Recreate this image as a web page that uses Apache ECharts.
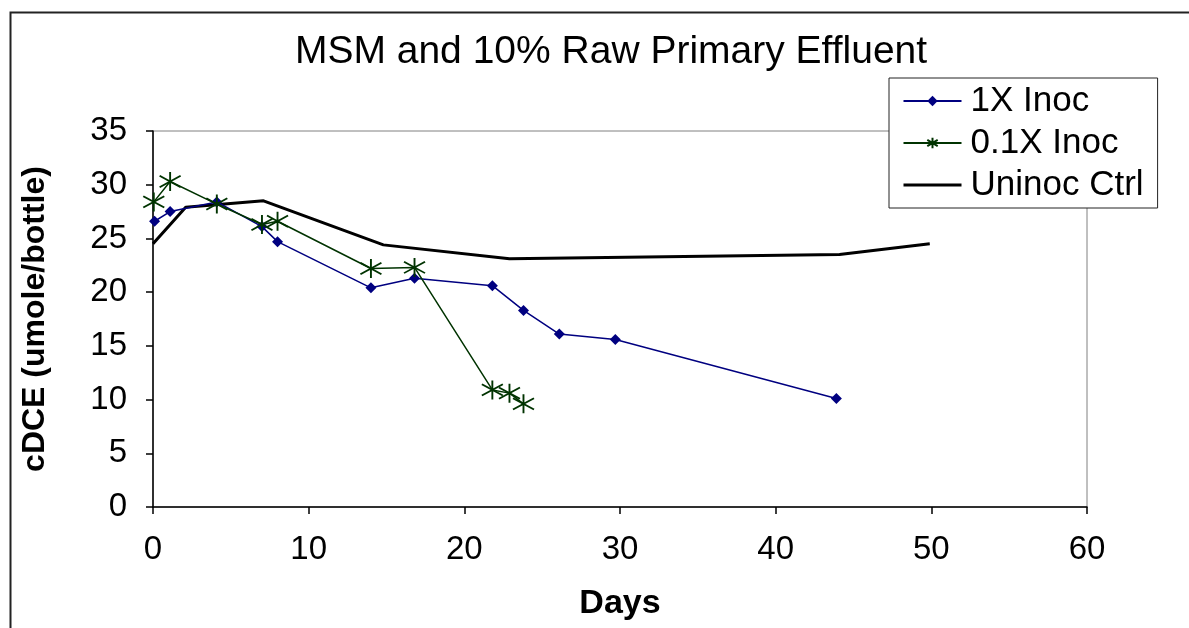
<!DOCTYPE html>
<html>
<head>
<meta charset="utf-8">
<script src="https://cdn.jsdelivr.net/npm/echarts@6/dist/echarts.min.js"></script>
<style>
  html, body { margin: 0; padding: 0; background: #fff; }
  #chart { width: 1189px; height: 628px; }
</style>
</head>
<body>
<div id="chart"></div>
<script>
// values
const inoc1Days = [0.1, 1.1, 4.1, 7.0, 8.0, 14.0, 16.8, 21.8, 23.8, 26.1, 29.7, 43.9];
const inoc1Vals = [26.6, 27.5, 28.4, 26.1, 24.7, 20.4, 21.3, 20.6, 18.3, 16.1, 15.6, 10.1];

const inoc01Days = [0.05, 1.1, 4.1, 7.0, 8.0, 14.0, 16.8, 21.8, 22.9, 23.8];
const inoc01Vals = [28.4, 30.3, 28.2, 26.3, 26.6, 22.2, 22.3, 10.9, 10.6, 9.6];

const ctrlDays = [0, 2.1, 7.1, 14.8, 22.9, 44.1, 49.9];
const ctrlVals = [24.5, 27.9, 28.5, 24.4, 23.1, 23.5, 24.5];

const seriesNames = ['1X Inoc', '0.1X Inoc', 'Uninoc Ctrl'];

const pairs = (xs, ys) => xs.map((x, i) => [x, ys[i]]);

const asterisk = 'path://M10,0L10,20M0,4L20,16M0,16L20,4';
const font = '"Liberation Sans", Arial, sans-serif';

let myChart = echarts.init(document.getElementById('chart'));

let option = {
  animation: false,
  title: {
    text: 'MSM and 10% Raw Primary Effluent',
    left: 606,
    top: 28,
    textAlign: 'center',
    textStyle: { fontFamily: font, fontSize: 39, fontWeight: 'normal', color: '#000' }
  },
  legend: {
    data: [
      { name: seriesNames[0] },
      { name: seriesNames[1] },
      { name: seriesNames[2], itemStyle: { opacity: 0 }, lineStyle: { width: 3 } }
    ],
    orient: 'vertical',
    left: 889,
    top: 78,
    itemWidth: 58,
    itemHeight: 13,
    itemGap: 4,
    padding: [4, 14, 4, 13],
    borderColor: '#222',
    borderWidth: 1,
    backgroundColor: '#fff',
    textStyle: { fontFamily: font, fontSize: 35, color: '#000', lineHeight: 38, padding: [0, 0, 0, 4] }
  },
  grid: {
    left: 153,
    right: 102,
    top: 131,
    bottom: 121,
    show: true,
    borderColor: '#808080',
    borderWidth: 1
  },
  xAxis: {
    type: 'value',
    min: 0,
    max: 60,
    interval: 10,
    name: 'Days',
    nameLocation: 'middle',
    nameGap: 80,
    nameTextStyle: { fontFamily: font, fontSize: 34, fontWeight: 'bold', color: '#000' },
    axisLine: { lineStyle: { color: '#000', width: 1.5 } },
    axisTick: { length: 7, lineStyle: { color: '#000', width: 1.5 } },
    axisLabel: { margin: 26, fontFamily: font, fontSize: 33, color: '#000' },
    splitLine: { show: false }
  },
  yAxis: {
    type: 'value',
    min: 0,
    max: 35,
    interval: 5,
    name: 'cDCE (umole/bottle)',
    nameLocation: 'middle',
    nameRotate: 90,
    nameGap: 102,
    nameTextStyle: { fontFamily: font, fontSize: 32, fontWeight: 'bold', color: '#000' },
    axisLine: { show: true, lineStyle: { color: '#000', width: 1.5 } },
    axisTick: { show: true, length: 7, lineStyle: { color: '#000', width: 1.5 } },
    axisLabel: { margin: 26, fontFamily: font, fontSize: 33, color: '#000' },
    splitLine: { show: false }
  },
  series: [
    {
      name: 'Uninoc Ctrl',
      type: 'line',
      data: pairs(ctrlDays, ctrlVals),
      symbol: 'none',
      lineStyle: { color: '#000', width: 3 },
      itemStyle: { color: '#000' },
      z: 2
    },
    {
      name: '1X Inoc',
      type: 'line',
      data: pairs(inoc1Days, inoc1Vals),
      symbol: 'diamond',
      symbolSize: 11,
      lineStyle: { color: '#000080', width: 1.5 },
      itemStyle: { color: '#000080' },
      z: 3
    },
    {
      name: '0.1X Inoc',
      type: 'line',
      data: pairs(inoc01Days, inoc01Vals),
      symbol: asterisk,
      symbolSize: [21, 19],
      lineStyle: { color: '#003300', width: 1.5 },
      itemStyle: { color: '#003300', borderColor: '#003300', borderWidth: 1.8 },
      z: 4
    }
  ],
  graphic: [
    {
      type: 'rect',
      left: 8,
      top: 10,
      shape: { width: 1300, height: 1000 },
      style: { fill: 'none', stroke: '#222', lineWidth: 2 },
      silent: true
    }
  ]
};

myChart.setOption(option);
</script>
</body>
</html>
